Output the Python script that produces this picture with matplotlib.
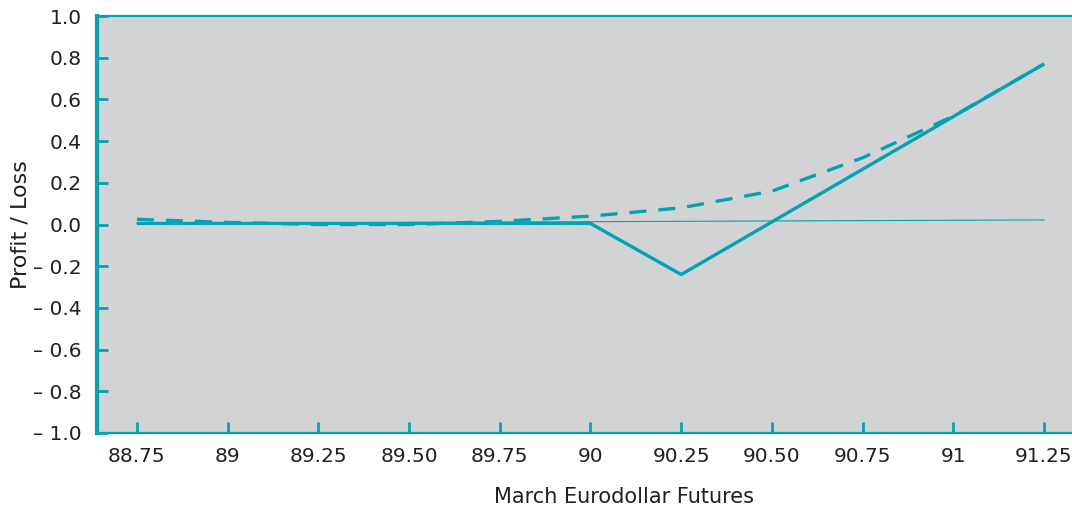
import matplotlib.pyplot as plt

futures = [88.75, 89, 89.25, 89.5, 89.75, 90, 90.25, 90.5, 90.75, 91, 91.25]
tick_labels = ["88.75", "89", "89.25", "89.50", "89.75", "90", "90.25", "90.50", "90.75", "91", "91.25"]

# at expiration (solid)
expiry_x = [88.75, 90, 90.25, 91.25]
expiry_y = [0.005, 0.005, -0.24, 0.77]

# before expiration (dashed)
before_y = [0.025, 0.01, 0.0, 0.0, 0.015, 0.04, 0.08, 0.16, 0.32, 0.52, 0.77]

# thin reference line
ref_x = [88.75, 91.25]
ref_y = [0.005, 0.022]

y_ticks = [1.0, 0.8, 0.6, 0.4, 0.2, 0.0, -0.2, -0.4, -0.6, -0.8, -1.0]
y_labels = ["1.0", "0.8", "0.6", "0.4", "0.2", "0.0",
            "\u2013 0.2", "\u2013 0.4", "\u2013 0.6", "\u2013 0.8", "\u2013 1.0"]

teal = "#00A3B4"
text_color = "#231F20"
plt.rcParams["font.family"] = "DejaVu Sans"

fig = plt.figure(figsize = (10.72, 5.08), dpi = 100)
ax = fig.add_axes([97 / 1072, 1 - 433 / 508, 1 - 97 / 1072, (433 - 16) / 508])
ax.set_facecolor("#D1D3D4")

ax.plot(ref_x, ref_y, color = teal, lw = 0.8)
ax.plot(expiry_x, expiry_y, color = teal, lw = 2.4, solid_capstyle = "butt")
ax.plot(futures, before_y, color = teal, lw = 2.4, dashes = (5.1, 3.6))

ax.set_xlim(88.64, 91.327)
ax.set_ylim(-1, 1)
ax.set_xticks(futures)
ax.set_xticklabels(tick_labels)
ax.set_yticks(y_ticks)
ax.set_yticklabels(y_labels)

ax.tick_params(axis = "x", direction = "in", length = 8, width = 2, color = teal,
               labelsize = 14.5, labelcolor = text_color, pad = 10)
ax.tick_params(axis = "y", direction = "in", length = 8, width = 2, color = teal,
               labelsize = 14.5, labelcolor = text_color, pad = 11)

for side in ["left", "top", "bottom"]:
    ax.spines[side].set_color(teal)
ax.spines["left"].set_linewidth(3)
ax.spines["top"].set_linewidth(1.6)
ax.spines["bottom"].set_linewidth(1.6)
ax.spines["right"].set_visible(False)

ax.set_xlabel("March Eurodollar Futures", fontsize = 15, color = text_color)
ax.xaxis.set_label_coords(0.541, -0.13)
ax.set_ylabel("Profit / Loss", fontsize = 16, color = text_color)
ax.yaxis.set_label_coords(-0.068, 0.50)

fig.savefig("out.png", dpi = 100)
